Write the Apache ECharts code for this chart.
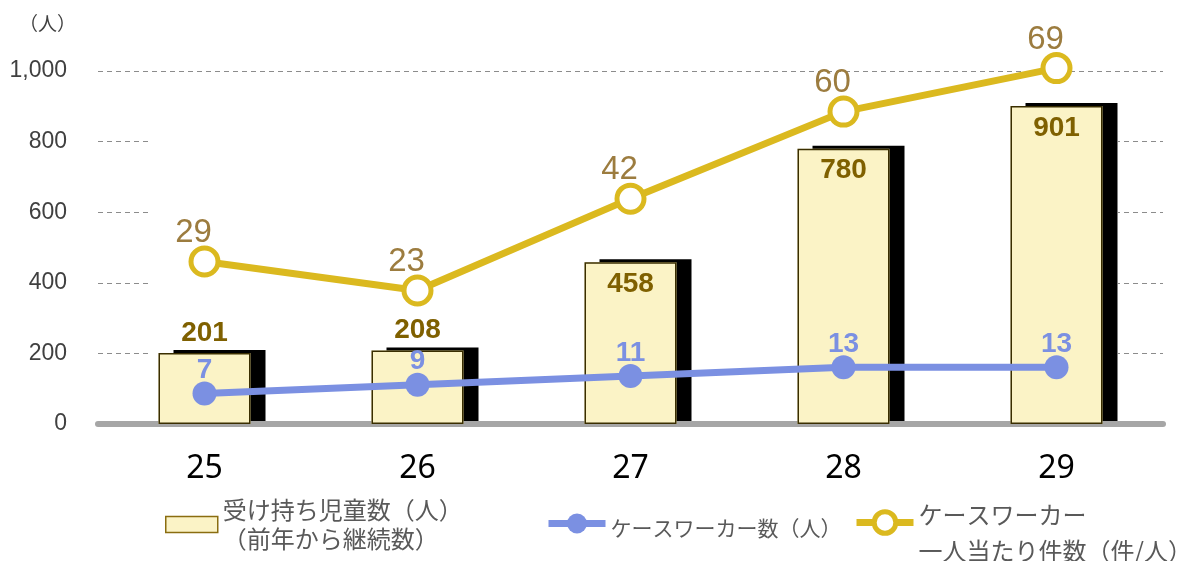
<!DOCTYPE html>
<html lang="ja">
<head>
    <meta charset="UTF-8">
    <title>ケースワーカー</title>
    <script src="https://cdn.jsdelivr.net/npm/echarts@6/dist/echarts.min.js"></script>
    <style>
        html, body { margin: 0; padding: 0; background: #fff; }
    </style>
</head>
<body>
    <div id="chart" style="width: 1193px; height: 561px;"></div>
    <script>
        // 年度
        var years = ['25', '26', '27', '28', '29']
        // 受け持ち児童数（人）
        var children = [201, 208, 458, 780, 901]
        // ケースワーカー数（人）
        var workers = [7, 9, 11, 13, 13]
        // ケースワーカー一人当たり件数
        var perWorker = [29, 23, 42, 60, 69]
        var yTicks = [0, 200, 400, 600, 800, 1000]

        var barName = '受け持ち児童数（人）\n（前年から継続数）'
        var blueName = 'ケースワーカー数（人）'
        var yellowName = 'ケースワーカー\n一人当たり件数（件/人）'

        var blue = '#7b90e2'
        var yellow = '#dbb91f'
        var jp = '"Noto Sans CJK JP", "Noto Sans", sans-serif'

        // legend text: a spacer line on top pushes the text down from the icon
        function richLines(name) {
            return '{s| }\n' + name.split('\n').map(function (l) { return '{a|' + l + '}' }).join('\n')
        }

        var chart = echarts.init(document.getElementById('chart'))

        var barData = children.map(function (v) {
            return {
                value: v,
                label: { position: v < 300 ? 'top' : 'insideTop', distance: v < 300 ? 6 : 8 }
            }
        })

        var option = {
            backgroundColor: '#fff',
            animation: false,
            grid: { left: 98, right: 30, top: 71, bottom: 137 },
            graphic: [{
                type: 'rect',
                z: 1,
                silent: true,
                shape: { x: 152, y: 78, width: 966, height: 342 },
                style: { fill: '#fff' }
            }],
            legend: [{
                data: [{ name: barName, icon: 'rect' }],
                left: 160, top: 493,
                itemWidth: 52, itemHeight: 16,
                itemStyle: { color: '#fbf3c6', borderColor: '#8a6d10', borderWidth: 1.5 },
                formatter: function (n) { return n.split('\n').map(function (l) { return '{a|' + l + '}' }).join('\n') },
                textStyle: {
                    rich: { a: { color: '#595959', fontSize: 24, lineHeight: 29, fontFamily: jp } }
                },
                selectedMode: false
            }, {
                data: [blueName],
                left: 540, top: 505,
                itemWidth: 57, itemHeight: 25,
                lineStyle: { width: 7 },
                formatter: richLines,
                textStyle: {
                    rich: {
                        s: { fontSize: 1, lineHeight: 10 },
                        a: { color: '#595959', fontSize: 21, lineHeight: 26, fontFamily: jp }
                    }
                },
                selectedMode: false
            }, {
                data: [yellowName],
                left: 848, top: 481,
                itemWidth: 57, itemHeight: 27,
                lineStyle: { width: 7 },
                itemStyle: { borderWidth: 5 },
                formatter: richLines,
                textStyle: {
                    rich: {
                        s: { fontSize: 1, lineHeight: 21 },
                        a: { color: '#595959', fontSize: 24, lineHeight: 36, fontFamily: jp }
                    }
                },
                selectedMode: false
            }],
            xAxis: {
                type: 'category',
                data: years,
                axisLine: { lineStyle: { color: '#a6a6a6', width: 6 } },
                axisTick: { show: false },
                axisLabel: { color: '#000', fontSize: 32, margin: 29, fontFamily: '"Noto Sans", sans-serif' }
            },
            yAxis: [{
                type: 'value',
                min: yTicks[0],
                max: yTicks[yTicks.length - 1],
                interval: 200,
                name: '（人）',
                nameLocation: 'end',
                nameGap: 38,
                nameTextStyle: { color: '#404040', fontSize: 19, align: 'right', padding: [0, 22, 0, 0], fontFamily: jp },
                axisLine: { show: false },
                axisTick: { show: false },
                axisLabel: {
                    color: '#404040', fontSize: 23, margin: 31,
                    fontFamily: '"Liberation Sans", Arial, sans-serif',
                    formatter: function (v) { return v.toLocaleString('en-US') }
                },
                splitLine: { lineStyle: { color: '#8c8c8c', type: [5, 4], width: 1 } }
            }, {
                type: 'value', show: false, min: 0, max: 81, splitLine: { show: false }
            }, {
                type: 'value', show: false, min: -4.6, max: 68.4, splitLine: { show: false }
            }],
            series: [{
                name: barName,
                type: 'bar',
                z: 2,
                barWidth: 92,
                data: barData,
                itemStyle: {
                    color: '#fbf3c6',
                    shadowColor: '#000',
                    shadowBlur: 0,
                    shadowOffsetX: 15,
                    shadowOffsetY: -3
                },
                label: {
                    show: true,
                    color: '#7f6000',
                    fontSize: 28,
                    fontWeight: 'bold',
                    fontFamily: '"Liberation Sans", Arial, sans-serif'
                }
            }, {
                // outline of the bar face, drawn without shadow
                type: 'bar',
                z: 2,
                barWidth: 92,
                barGap: '-100%',
                data: children,
                silent: true,
                itemStyle: { color: 'rgba(0,0,0,0)', borderColor: '#3a2e00', borderWidth: 1.5 }
            }, {
                name: blueName,
                type: 'line',
                z: 3,
                yAxisIndex: 1,
                data: workers,
                symbol: 'circle',
                symbolSize: 24,
                lineStyle: { color: blue, width: 7 },
                itemStyle: { color: blue },
                label: {
                    show: true,
                    position: 'top',
                    distance: -3,
                    color: blue,
                    fontSize: 28,
                    fontWeight: 'bold',
                    fontFamily: '"Liberation Sans", Arial, sans-serif'
                }
            }, {
                name: yellowName,
                type: 'line',
                z: 4,
                yAxisIndex: 2,
                clip: false,
                data: perWorker,
                symbol: 'circle',
                symbolSize: 27,
                lineStyle: { color: yellow, width: 7 },
                itemStyle: { color: '#fff', borderColor: yellow, borderWidth: 5 },
                label: {
                    show: true,
                    position: 'top',
                    distance: -4,
                    offset: [-11, 0],
                    color: '#9c7c3f',
                    fontSize: 33,
                    fontFamily: '"Liberation Sans", Arial, sans-serif'
                }
            }]
        }
        chart.setOption(option)
    </script>
</body>
</html>
